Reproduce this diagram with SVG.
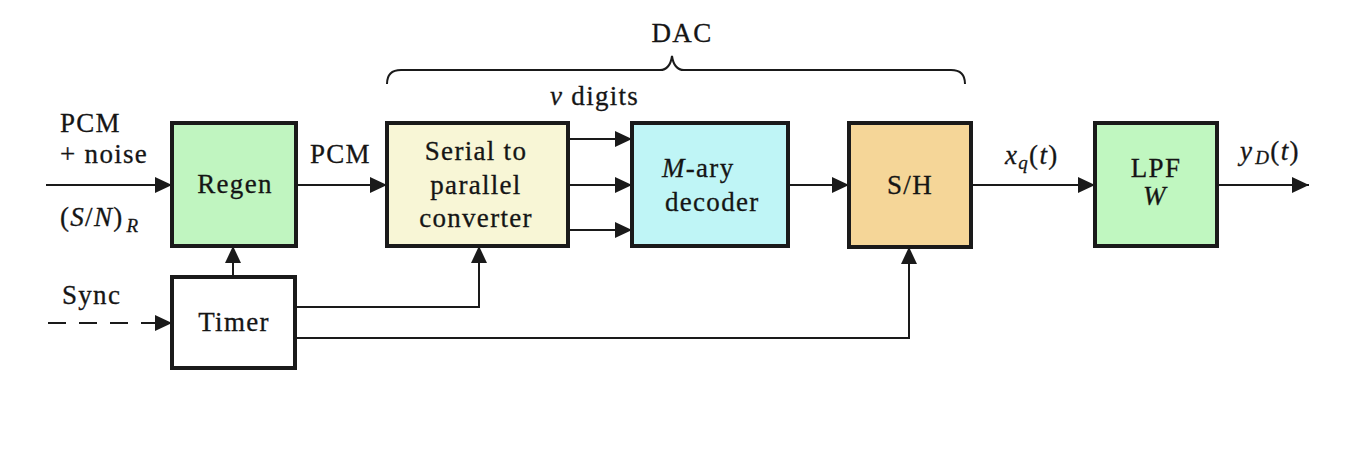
<svg xmlns="http://www.w3.org/2000/svg" width="1362" height="465" viewBox="0 0 1362 465">
<style>
.box{stroke:#1a1a1a;stroke-width:4}
.ln{fill:none;stroke:#1a1a1a;stroke-width:2}
text{font-family:"Liberation Serif","Times New Roman",serif;font-size:27px;fill:#151515;letter-spacing:1.3px;stroke:#151515;stroke-width:0.3px}
.c{text-anchor:middle}
.i{font-style:italic}
.sub{font-size:19px;font-style:italic}
</style>
<defs>
<marker id="ah" markerUnits="userSpaceOnUse" markerWidth="18" markerHeight="18" viewBox="0 0 18 18" refX="17" refY="9" orient="auto">
<path d="M0,1 L17,9 L0,17 z" fill="#1a1a1a"/>
</marker>
</defs>
<rect width="1362" height="465" fill="#ffffff"/>

<g id="connectors">
<line class="ln" x1="46" y1="185" x2="172" y2="185" marker-end="url(#ah)"/>
<line class="ln" x1="296" y1="185" x2="387" y2="185" marker-end="url(#ah)"/>
<line class="ln" x1="568" y1="139" x2="632" y2="139" marker-end="url(#ah)"/>
<line class="ln" x1="568" y1="185" x2="632" y2="185" marker-end="url(#ah)"/>
<line class="ln" x1="568" y1="230" x2="632" y2="230" marker-end="url(#ah)"/>
<line class="ln" x1="788" y1="185" x2="849" y2="185" marker-end="url(#ah)"/>
<line class="ln" x1="971" y1="185" x2="1095" y2="185" marker-end="url(#ah)"/>
<line class="ln" x1="1217" y1="185" x2="1309" y2="185" marker-end="url(#ah)"/>
<line class="ln" x1="233" y1="277" x2="233" y2="246" marker-end="url(#ah)"/>
<line class="ln" x1="48" y1="323" x2="172" y2="323" stroke-dasharray="18 13" marker-end="url(#ah)"/>
<polyline class="ln" points="296,307 479,307 479,246" marker-end="url(#ah)"/>
<polyline class="ln" points="296,338 909,338 909,247" marker-end="url(#ah)"/>
<path class="ln" d="M387,84 Q387,70 401,70 L660,70 Q670,70 672,56 Q674,70 684,70 L951,70 Q965,70 965,84"/>
</g>

<g id="regen">
<rect class="box" x="172" y="123" width="124" height="123" fill="#c0f5c0"/>
<text class="c" x="235" y="193">Regen</text>
</g>
<g id="timer">
<rect class="box" x="172" y="277" width="123" height="91" fill="#ffffff"/>
<text class="c" x="234" y="331">Timer</text>
</g>
<g id="serial">
<rect class="box" x="387" y="123" width="181" height="123" fill="#f8f6d6"/>
<text class="c" x="476" y="160">Serial to</text>
<text class="c" x="476" y="194">parallel</text>
<text class="c" x="476" y="227">converter</text>
</g>
<g id="mary">
<rect class="box" x="632" y="123" width="156" height="123" fill="#bff5f6"/>
<text x="662" y="177"><tspan class="i">M</tspan>-ary</text>
<text x="665" y="211">decoder</text>
</g>
<g id="sh">
<rect class="box" x="849" y="123" width="122" height="124" fill="#f5d698"/>
<text class="c" x="910" y="194">S/H</text>
</g>
<g id="lpf">
<rect class="box" x="1095" y="123" width="122" height="123" fill="#c0f7c0"/>
<text class="c" x="1156" y="177">LPF</text>
<text class="c i" x="1155" y="205">W</text>
</g>

<g id="labels">
<text class="c" x="682" y="42">DAC</text>
<text x="550" y="105"><tspan class="i">ν</tspan>  digits</text>
<text x="60" y="132">PCM</text>
<text x="60" y="163">+ noise</text>
<text x="60" y="226">(<tspan class="i">S</tspan>/<tspan class="i">N</tspan>)<tspan class="sub" dx="3" dy="6">R</tspan></text>
<text x="310" y="163">PCM</text>
<text x="62" y="304">Sync</text>
<text x="1005" y="164"><tspan class="i">x</tspan><tspan class="sub" dy="5">q</tspan><tspan dy="-5">(</tspan><tspan class="i">t</tspan>)</text>
<text x="1240" y="160"><tspan class="i">y</tspan><tspan class="sub" dx="2" dy="4">D</tspan><tspan dy="-4">(</tspan><tspan class="i">t</tspan>)</text>
</g>
</svg>
